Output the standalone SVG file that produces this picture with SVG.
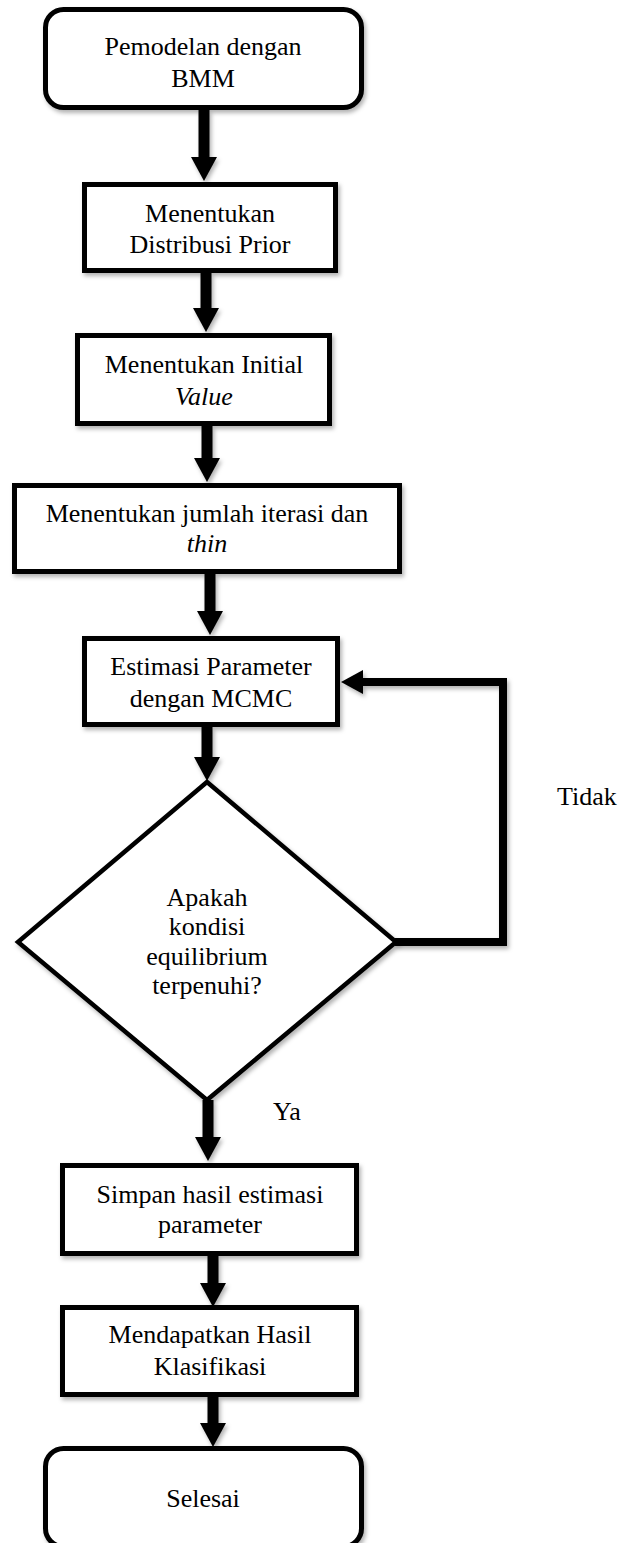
<svg xmlns="http://www.w3.org/2000/svg" width="621" height="1543" viewBox="0 0 621 1543">
<style>
  .box { fill: #ffffff; stroke: #000000; stroke-width: 5; filter: url(#sh); }
  .dia { fill: #ffffff; stroke: #000000; stroke-width: 4.5; stroke-linejoin: miter; filter: url(#sh); }
  .lbl { font-family: "Liberation Serif", "Times New Roman", serif; font-size: 26px; fill: #000000; text-anchor: middle; }
  .free { font-family: "Liberation Serif", "Times New Roman", serif; font-size: 26px; fill: #000000; }
  .it { font-style: italic; }
  .shaft { stroke: #000000; stroke-width: 11; fill: none; marker-end: url(#ah); filter: url(#shu); }
  .loop { stroke: #000000; stroke-width: 8; fill: none; stroke-linejoin: miter; marker-end: url(#ah2); filter: url(#shu); }
</style>
<defs>
  <filter id="sh" x="-10%" y="-10%" width="130%" height="130%">
    <feDropShadow dx="2" dy="3" stdDeviation="2" flood-color="#000000" flood-opacity="0.3"/>
  </filter>
  <filter id="shu" filterUnits="userSpaceOnUse" x="0" y="0" width="621" height="1543">
    <feDropShadow dx="2" dy="3" stdDeviation="2" flood-color="#000000" flood-opacity="0.3"/>
  </filter>
  <marker id="ah" viewBox="0 0 24 26" refX="1" refY="13" markerWidth="24" markerHeight="26" markerUnits="userSpaceOnUse" orient="auto">
    <path d="M0,0 L24,13 L0,26 z" fill="#000000"/>
  </marker>
  <marker id="ah2" viewBox="0 0 22 24" refX="1" refY="12" markerWidth="22" markerHeight="24" markerUnits="userSpaceOnUse" orient="auto">
    <path d="M0,0 L22,12 L0,24 z" fill="#000000"/>
  </marker>
</defs>
<rect width="621" height="1543" fill="#ffffff"/>

<g id="connectors">
  <line class="shaft" x1="204" y1="110" x2="204" y2="158"/>
  <line class="shaft" x1="206" y1="273" x2="206" y2="309"/>
  <line class="shaft" x1="207" y1="426" x2="207" y2="459"/>
  <line class="shaft" x1="210" y1="574" x2="210" y2="612"/>
  <line class="shaft" x1="207" y1="727" x2="207" y2="758"/>
  <line class="shaft" x1="208" y1="1100" x2="208" y2="1138"/>
  <line class="shaft" x1="213" y1="1256" x2="213" y2="1284"/>
  <line class="shaft" x1="213" y1="1397" x2="213" y2="1424"/>
  <path class="loop" d="M395,942 H503 V682 H362"/>
  <text class="free" x="557" y="805">Tidak</text>
  <text class="free" x="273" y="1120">Ya</text>
</g>

<g id="start">
  <rect class="box" x="45.5" y="9.5" width="316" height="98" rx="18" ry="18"/>
  <text class="lbl" x="203" y="55">Pemodelan dengan</text>
  <text class="lbl" x="203" y="87">BMM</text>
</g>

<g id="prior">
  <rect class="box" x="84.5" y="184.5" width="251" height="86"/>
  <text class="lbl" x="210" y="222">Menentukan</text>
  <text class="lbl" x="210" y="253">Distribusi Prior</text>
</g>

<g id="initial">
  <rect class="box" x="77.5" y="335.5" width="252" height="88"/>
  <text class="lbl" x="204" y="373">Menentukan Initial</text>
  <text class="lbl it" x="204" y="405">Value</text>
</g>

<g id="iterasi">
  <rect class="box" x="14.5" y="485.5" width="385" height="86"/>
  <text class="lbl" x="207" y="522">Menentukan jumlah iterasi dan</text>
  <text class="lbl it" x="207" y="552">thin</text>
</g>

<g id="mcmc">
  <rect class="box" x="84.5" y="638.5" width="253" height="86"/>
  <text class="lbl" x="211" y="675">Estimasi Parameter</text>
  <text class="lbl" x="211" y="707">dengan MCMC</text>
</g>

<g id="decision">
  <polygon class="dia" points="207,782 396,942 207,1100 18,942"/>
  <text class="lbl" x="207" y="906">Apakah</text>
  <text class="lbl" x="207" y="935">kondisi</text>
  <text class="lbl" x="207" y="965">equilibrium</text>
  <text class="lbl" x="207" y="994">terpenuhi?</text>
</g>

<g id="simpan">
  <rect class="box" x="62.5" y="1165.5" width="294" height="88"/>
  <text class="lbl" x="210" y="1203">Simpan hasil estimasi</text>
  <text class="lbl" x="210" y="1233">parameter</text>
</g>

<g id="klasifikasi">
  <rect class="box" x="62.5" y="1307.5" width="294" height="87"/>
  <text class="lbl" x="210" y="1343">Mendapatkan Hasil</text>
  <text class="lbl" x="210" y="1375">Klasifikasi</text>
</g>

<g id="end">
  <rect class="box" x="45.5" y="1448.5" width="316" height="98" rx="18" ry="18"/>
  <text class="lbl" x="203" y="1507">Selesai</text>
</g>
</svg>
